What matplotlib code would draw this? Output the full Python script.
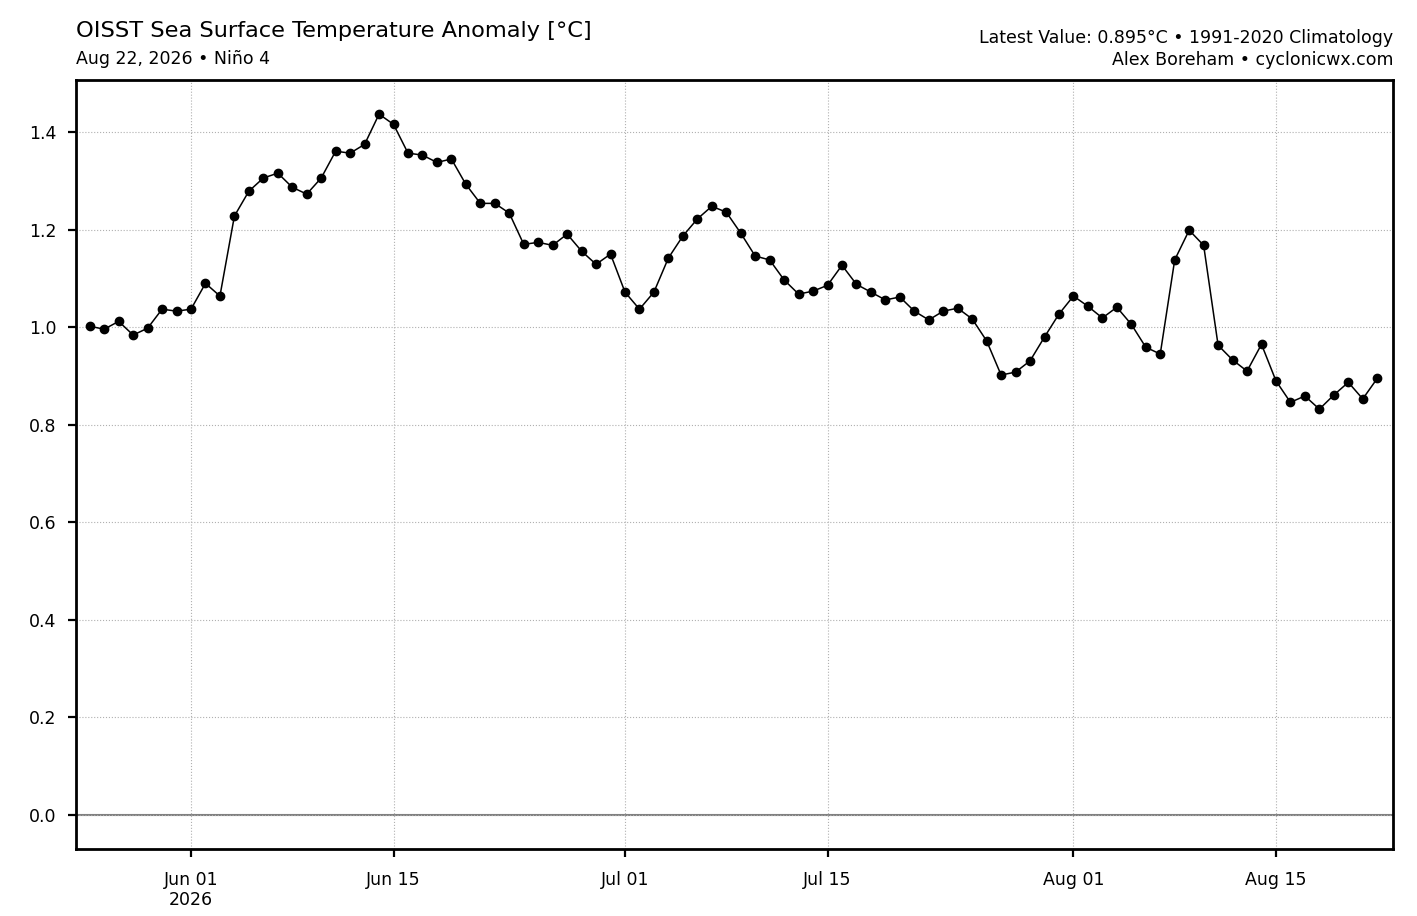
import matplotlib
matplotlib.use('Agg')
import matplotlib.pyplot as plt
import matplotlib.dates as mdates
import numpy as np
import datetime as dt

start_date = dt.datetime(2026, 5, 25)

# daily Nino 4 SST anomaly values (May 25 - Aug 22, 2026)
anomaly = [
    1.002, 0.996, 1.012, 0.984, 0.998, 1.037, 1.033,
    1.037, 1.090, 1.064, 1.228, 1.279, 1.306, 1.316, 1.287, 1.273, 1.306,
    1.361, 1.357, 1.375, 1.437, 1.416, 1.357, 1.353, 1.338, 1.345, 1.293,
    1.254, 1.254, 1.234, 1.170, 1.174, 1.168, 1.191, 1.156, 1.129, 1.150,
    1.072, 1.037, 1.072, 1.142, 1.187, 1.222, 1.248, 1.236, 1.193, 1.146,
    1.138, 1.097, 1.068, 1.074, 1.086, 1.127, 1.088, 1.072, 1.056, 1.062,
    1.033, 1.015, 1.033, 1.039, 1.017, 0.972, 0.902, 0.908, 0.931, 0.980,
    1.027, 1.064, 1.043, 1.019, 1.041, 1.006, 0.959, 0.945, 1.138, 1.199,
    1.168, 0.963, 0.933, 0.910, 0.965, 0.890, 0.846, 0.859, 0.832, 0.861,
    0.887, 0.853, 0.895,
]
dates = [start_date + dt.timedelta(days=i) for i in range(len(anomaly))]

title = 'OISST Sea Surface Temperature Anomaly [°C]'
subtitle = 'Aug 22, 2026 • Niño 4'
right_top = 'Latest Value: 0.895°C • 1991-2020 Climatology'
right_bottom = 'Alex Boreham • cyclonicwx.com'

fig = plt.figure(figsize=(14.17, 9.16), dpi=100)
ax = fig.add_axes([76 / 1417, 1 - 849 / 916, (1393 - 76) / 1417, (849 - 80) / 916])

ax.axhline(0, color='gray', linewidth=1.5, zorder=1)
ax.plot(dates, anomaly, color='black', linewidth=1.1, marker='o', markersize=6, zorder=3)

ax.set_xlim(dates[0] - dt.timedelta(days=0.95), dates[-1] + dt.timedelta(days=1.09))
ax.set_ylim(-0.07, 1.507)

ax.xaxis.set_major_locator(mdates.DayLocator(bymonthday=[1, 15]))


def fmt_date(x, pos):
    d = mdates.num2date(x)
    s = d.strftime('%b %d')
    if pos == 0:
        s += '\n' + d.strftime('%Y')
    return s


ax.xaxis.set_major_formatter(plt.FuncFormatter(fmt_date))
ax.set_yticks(np.arange(0, 1.41, 0.2))
ax.yaxis.set_major_formatter(plt.FormatStrFormatter('%.1f'))

ax.grid(True, linestyle=':', color='#b0b0b0', linewidth=0.8)
ax.tick_params(axis='both', labelsize=12.5, length=6, width=1.6)
ax.tick_params(axis='x', pad=9.5)
ax.tick_params(axis='y', pad=8)
for sp in ax.spines.values():
    sp.set_linewidth(2.0)

fig.text(76 / 1417, 1 - 31 / 916, title, fontsize=16.2, ha='left', va='center')
fig.text(76 / 1417, 1 - 59 / 916, subtitle, fontsize=12.5, ha='left', va='center')
fig.text(1393 / 1417, 1 - 38 / 916, right_top, fontsize=12.5, ha='right', va='center')
fig.text(1393 / 1417, 1 - 60 / 916, right_bottom, fontsize=12.5, ha='right', va='center')

fig.savefig('out.png', dpi=100)
